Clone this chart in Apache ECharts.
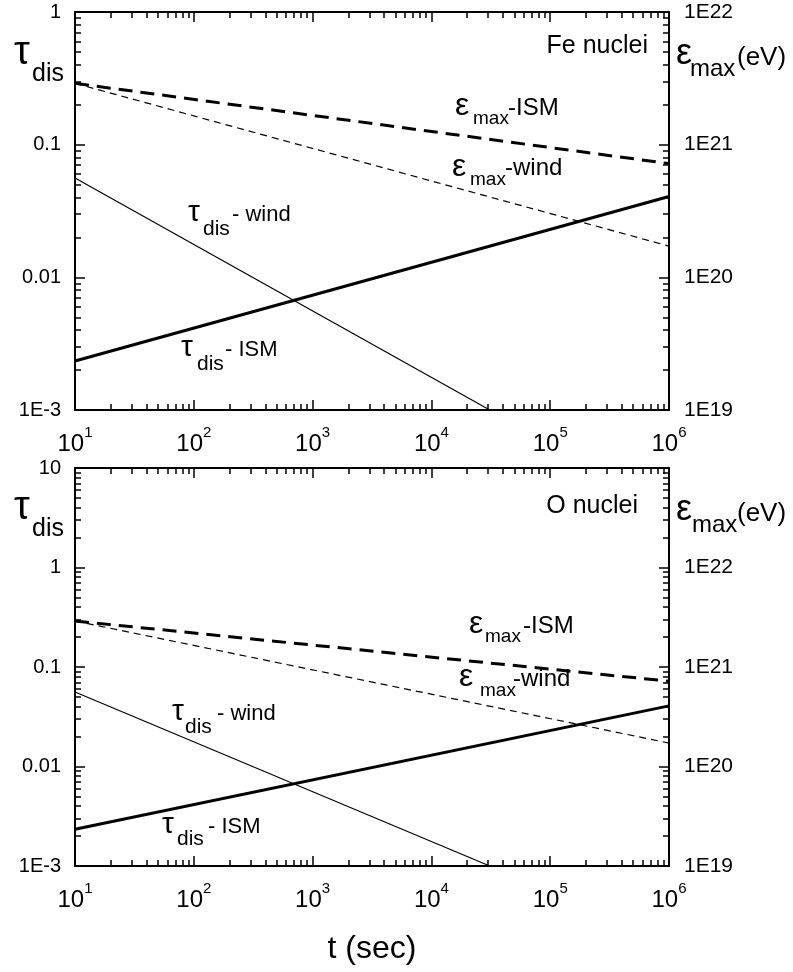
<!DOCTYPE html>
<html>
<head>
<meta charset="utf-8">
<script src="https://cdn.jsdelivr.net/npm/echarts@6/dist/echarts.min.js"></script>
<style>
  html, body { margin: 0; padding: 0; background: #fff; }
  #chart { width: 793px; height: 972px; }
</style>
</head>
<body>
<div id="chart"></div>
<script>
// values (same curves in both panels)
const tEnds = [10, 1e6];
const tauIsm = [0.00234, 0.0407];
const tauWindT = [10, 31000];
const tauWind = [0.056, 0.001];
const epsIsm = [2.9e21, 7.2e20];
const epsWind = [2.9e21, 1.72e20];

const xTicks = [10, 1e2, 1e3, 1e4, 1e5, 1e6];
const tauTicksFe = [1e-3, 1e-2, 1e-1, 1];
const epsTicksFe = [1e19, 1e20, 1e21, 1e22];
const tauTicksO = [1e-3, 1e-2, 1e-1, 1, 10];
const epsTicksO = [1e19, 1e20, 1e21, 1e22, 1e23];

const FONT = 'Liberation Sans, Arial, sans-serif';
const NARROW = 'Liberation Sans Narrow, Liberation Sans, Arial, sans-serif';

function minors(major) {
  const out = [];
  for (let i = 0; i < major.length - 1; i++) {
    for (let k = 2; k < 10; k++) out.push(+(major[i] * k).toPrecision(6));
  }
  return out;
}
function expOf(v) { return Math.round(Math.log10(v)); }
function tauFmt(v) {
  const e = expOf(v);
  if (e >= 0) return String(Math.pow(10, e));
  if (e >= -2) return (Math.pow(10, e)).toFixed(-e);
  return '1E' + e;
}
function epsFmt(v) { return '1E' + expOf(v); }

const grid = [], xAxis = [], yAxis = [], series = [];

function addAxis(list, gridIndex, position, major, label) {
  const base = {
    type: 'log', logBase: 10, gridIndex, position,
    min: major[0], max: major[major.length - 1],
    splitLine: { show: false },
    axisLine: { show: true, lineStyle: { color: '#000', width: 2 } },
    axisTick: { show: true, inside: true, length: 10, customValues: major,
      lineStyle: { color: '#000', width: 1.5 } },
    axisLabel: label ? Object.assign({ customValues: major }, label) : { show: false }
  };
  const idx = list.length;
  list.push(base);
  list.push({
    type: 'log', logBase: 10, gridIndex, position,
    min: major[0], max: major[major.length - 1],
    splitLine: { show: false },
    axisLine: { show: false },
    axisTick: { show: true, inside: true, length: 6, customValues: minors(major),
      lineStyle: { color: '#000', width: 1.5 } },
    axisLabel: { show: false }
  });
  return idx;
}

const xLabel = {
  margin: 15,
  formatter: v => '{b|10}{s|' + expOf(v) + '}',
  rich: {
    b: { fontFamily: NARROW, fontSize: 24, lineHeight: 38, color: '#000' },
    s: { fontFamily: NARROW, fontSize: 15, lineHeight: 15, verticalAlign: 'top', color: '#000' }
  }
};
const tauLabel = { margin: 14, formatter: tauFmt, fontFamily: FONT, fontSize: 20, color: '#000' };
const epsLabel = { margin: 15, formatter: epsFmt, fontFamily: FONT, fontSize: 21, color: '#000' };

const panels = [
  { top: 12, tau: tauTicksFe, eps: epsTicksFe },
  { top: 468, tau: tauTicksO, eps: epsTicksO }
];

panels.forEach((p, g) => {
  grid.push({ left: 75, top: p.top, width: 594, height: 398 });
  const xi = addAxis(xAxis, g, 'bottom', xTicks, xLabel);
  addAxis(xAxis, g, 'top', xTicks, null);
  const yl = addAxis(yAxis, g, 'left', p.tau, tauLabel);
  const yr = addAxis(yAxis, g, 'right', p.eps, epsLabel);
  const line = (name, xs, ys, yi, width, type) => ({
    name, type: 'line', xAxisIndex: xi, yAxisIndex: yi,
    data: xs.map((t, i) => [t, ys[i]]),
    showSymbol: false, symbol: 'none', silent: true,
    lineStyle: { color: '#000', width, type }
  });
  series.push(line('eps-ISM', tEnds, epsIsm, yr, 3, [14, 8]));
  series.push(line('eps-wind', tEnds, epsWind, yr, 1.2, [7, 5]));
  series.push(line('tau-ISM', tEnds, tauIsm, yl, 3, 'solid'));
  series.push(line('tau-wind', tauWindT, tauWind, yl, 1.2, 'solid'));
});

// text pieces: [text, x, baseline, size]
function txt(parts, align) {
  return parts.map(([text, x, base, size]) => ({
    type: 'text', x, y: base - 0.35 * size, silent: true,
    style: { text, fontFamily: FONT, fontSize: size, fill: '#000',
      align: align || 'left', verticalAlign: 'middle' }
  }));
}

const graphic = [].concat(
  txt([['τ', 14, 67, 40], ['dis', 32, 83, 25]]),
  txt([['ε', 676, 67, 36], ['max', 690, 78, 24], ['(eV)', 737, 67, 26]]),
  txt([['Fe nuclei', 648, 55, 25]], 'right'),
  txt([['ε', 455, 117, 32], ['max', 473, 125, 19], ['-ISM', 508, 117, 24]]),
  txt([['ε', 452, 178, 32], ['max', 470, 186, 19], ['-wind', 505, 177, 24]]),
  txt([['τ', 188, 223, 30], ['dis', 203, 237, 21], ['- wind', 232, 223, 22]]),
  txt([['τ', 181, 358, 30], ['dis', 197, 372, 21], ['- ISM', 225, 358, 22]]),

  txt([['τ', 14, 522, 40], ['dis', 32, 538, 25]]),
  txt([['ε', 676, 523, 36], ['max', 692, 534, 24], ['(eV)', 737, 523, 26]]),
  txt([['O nuclei', 638, 515, 25]], 'right'),
  txt([['ε', 469, 635, 32], ['max', 485, 643, 19], ['-ISM', 523, 635, 24]]),
  txt([['ε', 459, 688, 32], ['max', 480, 697, 19], ['-wind', 513, 688, 24]]),
  txt([['τ', 172, 722, 30], ['dis', 185, 735, 21], ['- wind', 217, 722, 22]]),
  txt([['τ', 162, 835, 30], ['dis', 177, 847, 21], ['- ISM', 208, 835, 22]]),

  txt([['t (sec)', 372, 960, 32]], 'center')
);

const chart = echarts.init(document.getElementById('chart'));
chart.setOption({
  animation: false,
  backgroundColor: '#fff',
  grid, xAxis, yAxis, series, graphic
});
</script>
</body>
</html>
